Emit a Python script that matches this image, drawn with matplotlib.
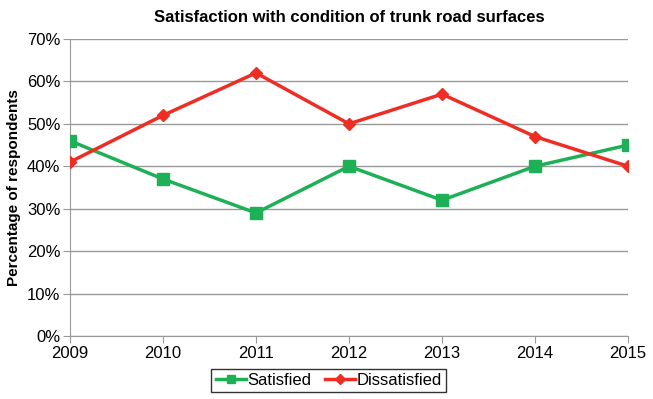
import matplotlib
matplotlib.use('Agg')
import matplotlib.pyplot as plt
from matplotlib.ticker import PercentFormatter

plt.rcParams['font.family'] = ['Liberation Sans', 'DejaVu Sans']

years = [2009, 2010, 2011, 2012, 2013, 2014, 2015]
satisfied = [46, 37, 29, 40, 32, 40, 45]
dissatisfied = [41, 52, 62, 50, 57, 47, 40]

fig = plt.figure(figsize=(6.53, 3.99), dpi=100)
ax = fig.add_axes([0.1072, 0.1579, 0.8545, 0.7444])

ax.plot(years, satisfied, color='#1eb056', lw=2.5, marker='s', markersize=8,
        label='Satisfied', zorder=3)
ax.plot(years, dissatisfied, color='#ee2d24', lw=2.5, marker='D', markersize=6,
        label='Dissatisfied', zorder=3)

ax.set_xlim(2009, 2015)
ax.set_ylim(0, 70)
ax.set_yticks(range(0, 71, 10))
ax.set_xticks(years)
ax.yaxis.set_major_formatter(PercentFormatter(decimals=0))
ax.grid(axis='y', color='#999999', lw=1)
ax.set_axisbelow(True)
for s in ['top', 'right']:
    ax.spines[s].set_visible(False)
for s in ['left', 'bottom']:
    ax.spines[s].set_color('#999999')
ax.tick_params(colors='#999999', labelcolor='black', labelsize=12, length=5,
               pad=2)

ax.set_ylabel('Percentage of respondents', fontsize=11, fontweight='bold',
              labelpad=4)
ax.set_title('Satisfaction with condition of trunk road surfaces',
             fontsize=12, fontweight='bold', pad=12)

leg = fig.legend(loc='center', bbox_to_anchor=(0.503, 0.047), ncol=2,
                 fontsize=12, frameon=True, fancybox=False, edgecolor='black',
                 handlelength=1.8, handletextpad=0.1, columnspacing=0.8,
                 borderpad=0.25, markerscale=0.8)
leg.get_frame().set_linewidth(1)

fig.savefig('out.png', dpi=100)
